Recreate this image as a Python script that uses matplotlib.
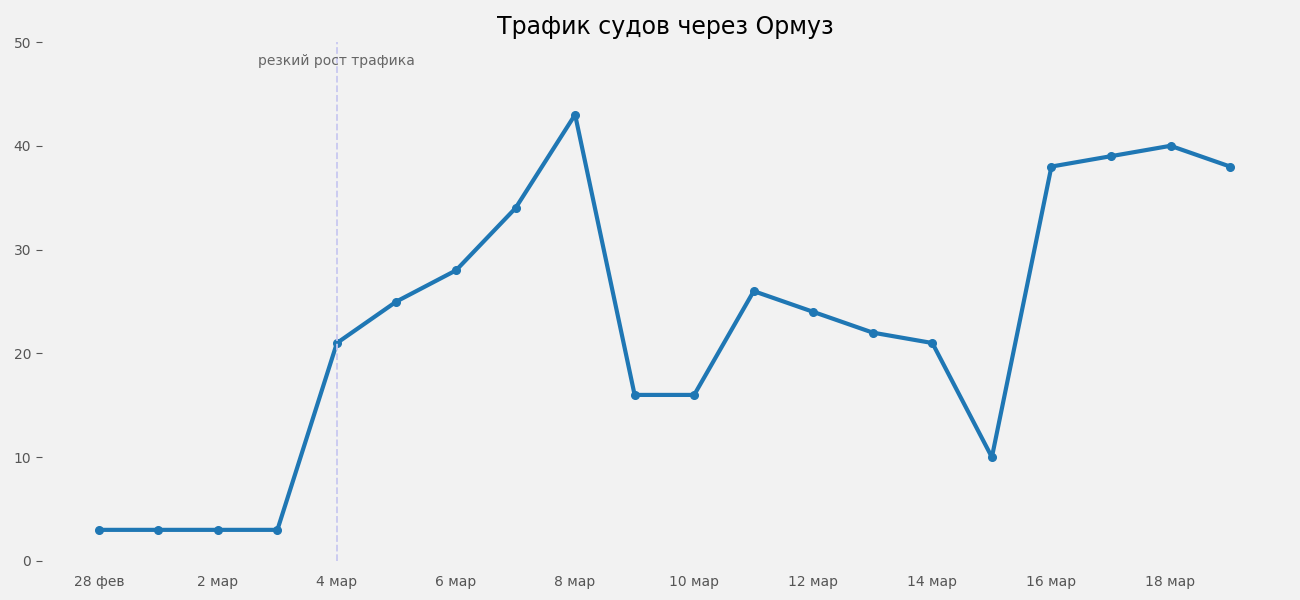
import matplotlib
matplotlib.use("Agg")
import matplotlib.pyplot as plt

days = ["28 фев","1 мар","2 мар","3 мар","4 мар","5 мар","6 мар","7 мар","8 мар","9 мар",
        "10 мар","11 мар","12 мар","13 мар","14 мар","15 мар","16 мар","17 мар","18 мар","19 мар"]
traffic = [3,3,3,3,21,25,28,34,43,16,16,26,24,22,21,10,38,39,40,38]
tick_labels = ["28 фев","2 мар","4 мар","6 мар","8 мар","10 мар","12 мар","14 мар","16 мар","18 мар"]
event_label = "резкий рост трафика"
event_day = "4 мар"

bg = "#f2f2f2"
fig = plt.figure(figsize=(13, 6), dpi=100, facecolor=bg)
ax = fig.add_axes([0.032, 0.065, 0.96, 0.865], facecolor=bg)
x = list(range(len(days)))
ax.plot(x, traffic, color="#1f77b4", lw=3, marker="o", ms=5.5)
ex = days.index(event_day)
ax.axvline(ex, color="#c8c8f0", ls="--", lw=1.3)
ax.text(ex, 48.2, event_label, ha="center", va="center", fontsize=10, color="#666666")
ax.set_xlim(-0.96, 20)
ax.set_ylim(0, 50)
ax.set_xticks([days.index(t) for t in tick_labels])
ax.set_xticklabels(tick_labels)
ax.set_yticks([0, 10, 20, 30, 40, 50])
ax.tick_params(axis="x", length=0, labelsize=10, colors="#555555", pad=10)
ax.tick_params(axis="y", length=4, labelsize=10, colors="#555555")
for s in ax.spines.values():
    s.set_visible(False)
ax.set_title("Трафик судов через Ормуз", fontsize=17, pad=6)
fig.savefig("out.png", facecolor=bg)
